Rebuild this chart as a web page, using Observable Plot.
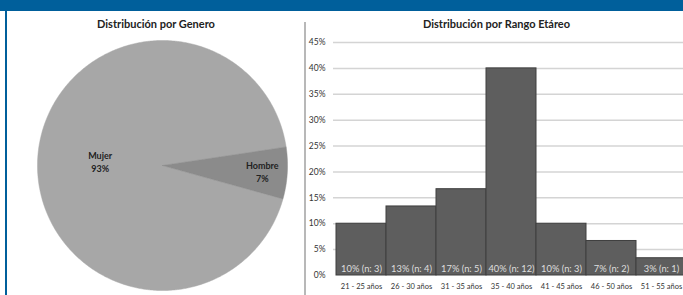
<!DOCTYPE html>
<html>
<head>
<meta charset="utf-8">
<script src="https://cdn.jsdelivr.net/npm/d3@7"></script>
<script src="https://cdn.jsdelivr.net/npm/@observablehq/plot@0.6"></script>
<style>
  html, body { margin: 0; padding: 0; width: 683px; height: 295px; overflow: hidden; background: #fff; font-family: Lato, "Liberation Sans", sans-serif; }
  #topbar { position: absolute; left: 0; top: 0; width: 683px; height: 11px; background: #005f9b; z-index: 5; }
  #leftborder { position: absolute; left: 5px; top: 0; width: 2px; height: 295px; background: #005f9b; z-index: 5; }
  #divider { position: absolute; left: 304px; top: 22px; width: 2px; height: 273px; background: #b8b8b8; z-index: 4; }
  .title { position: absolute; top: 17px; font-weight: bold; font-size: 11px; color: #222; text-align: center; z-index: 4; }
  #pie { position: absolute; left: 0; top: 0; width: 300px; }
  #bars { position: absolute; left: 305px; top: 30px; width: 390px; }
  svg { max-width: none !important; }
</style>
</head>
<body>
<div id="topbar"></div>
<div id="leftborder"></div>
<div id="divider"></div>
<div class="title" style="left:6px;width:300px;">Distribución por Genero</div>
<div class="title" style="left:305px;width:383px;">Distribución por Rango Etáreo</div>
<div id="pie"></div>
<div id="bars"></div>
<script>
// ---- Data ----
const genders = ["Mujer", "Hombre"];
const genderCounts = [28, 2];
const genderColors = ["#a7a7a7", "#8b8b8b"];

const ageRanges = ["21 - 25 años", "26 - 30 años", "31 - 35 años", "35 - 40 años", "41 - 45 años", "46 - 50 años", "51 - 55 años"];
const ageCounts = [3, 4, 5, 12, 3, 2, 1];
const yTicks = [0, 0.05, 0.10, 0.15, 0.20, 0.25, 0.30, 0.35, 0.40, 0.45];

// ---- Pie ----
const genderTotal = d3.sum(genderCounts);
const pieRows = genders.map((g, i) => ({ gender: g, count: genderCounts[i], color: genderColors[i] }));
const arcs = d3.pie().value(d => d.count).sort(null).startAngle(105.5 * Math.PI / 180).endAngle((105.5 + 360) * Math.PI / 180)(pieRows);

const slicePoints = [];
const labelRows = [];
const labelRadius = { Mujer: 0.5, Hombre: 0.8 };
arcs.forEach(a => {
  const g = a.data.gender;
  slicePoints.push({ gender: g, x: 0, y: 0 });
  const n = Math.max(2, Math.ceil((a.endAngle - a.startAngle) / (Math.PI / 360)));
  for (let k = 0; k <= n; k++) {
    const t = a.startAngle + (a.endAngle - a.startAngle) * k / n;
    slicePoints.push({ gender: g, x: Math.sin(t), y: Math.cos(t) });
  }
  slicePoints.push({ gender: g, x: 0, y: 0 });
  const mid = (a.startAngle + a.endAngle) / 2;
  const r = labelRadius[g];
  labelRows.push({ gender: g, x: r * Math.sin(mid), y: r * Math.cos(mid), pct: Math.round(a.data.count / genderTotal * 100) + "%" });
});

const piePlot = Plot.plot({
  width: 300,
  height: 295,
  margin: 0,
  x: { domain: [-1, 1], range: [37, 287], axis: null },
  y: { domain: [-1, 1], range: [290, 40], axis: null },
  style: { fontFamily: "Lato, 'Liberation Sans', sans-serif", background: "transparent" },
  marks: [
    ...pieRows.map(p => Plot.line(slicePoints.filter(d => d.gender === p.gender), { x: "x", y: "y", fill: p.color, stroke: p.color, strokeWidth: 0.5 })),
    Plot.text(labelRows, { x: "x", y: "y", text: d => d.gender + "\n" + d.pct, fontSize: 9, fontWeight: "bold", fill: "#222", lineHeight: 1.45 })
  ]
});
document.getElementById("pie").appendChild(piePlot);

// ---- Bars ----
const ageTotal = d3.sum(ageCounts);
const ageRows = ageRanges.map((r, i) => ({ range: r, n: ageCounts[i], share: ageCounts[i] / ageTotal }));

const barPlot = Plot.plot({
  width: 390,
  height: 265,
  marginLeft: 28,
  marginRight: 6,
  marginTop: 12,
  marginBottom: 20,
  style: { fontFamily: "Lato, 'Liberation Sans', sans-serif", fontSize: "7.5px", color: "#333", background: "transparent" },
  x: { domain: ageRanges, padding: 0, tickSize: 0, tickPadding: 8, label: null },
  y: { domain: [0, 0.45], ticks: yTicks, tickFormat: d3.format(".0%"), tickSize: 0, tickPadding: 8, label: null },
  marks: [
    Plot.ruleY(yTicks.slice(1), { stroke: "#d4d4d4", strokeWidth: 1.5 }),
    Plot.barY(ageRows, { x: "range", y: "share", fill: "#5e5e5e", stroke: "#3e3e3e", strokeWidth: 1 }),
    Plot.text(ageRows, { x: "range", y: 0, dy: -6, text: d => Math.round(d.share * 100) + "% (n: " + d.n + ")", fill: "#dedede", fontSize: 9.3 }),
    Plot.axisY({ ticks: yTicks, tickFormat: d3.format(".0%"), tickSize: 0, tickPadding: 8, fontSize: 8.5, label: null })
  ]
});
document.getElementById("bars").appendChild(barPlot);
</script>
</body>
</html>
